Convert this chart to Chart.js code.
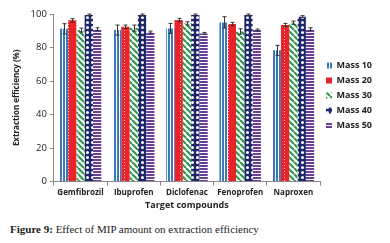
<!DOCTYPE html>
<html><head><meta charset="utf-8">
<script src="https://cdn.jsdelivr.net/npm/chart.js@4/dist/chart.umd.min.js"></script>
<style>
html,body{margin:0;padding:0;background:#fff;}
#wrap{position:absolute;left:0;top:0;width:390px;height:211px;}
#cap{position:absolute;left:10px;top:223px;font-family:"Liberation Serif","DejaVu Serif",serif;font-size:11px;color:#222;white-space:nowrap;}
</style></head>
<body>
<div id="wrap"><canvas id="c" width="390" height="211"></canvas></div>
<div id="cap"><b>Figure 9:</b> Effect of MIP amount on extraction efficiency</div>
<script>
const categories = ["Gemfibrozil","Ibuprofen","Diclofenac","Fenoprofen","Naproxen"];
const seriesNames = ["Mass 10","Mass 20","Mass 30","Mass 40","Mass 50"];
const mass10 = [91.2, 90.4, 91.4, 95.0, 78.3];
const mass20 = [96.2, 92.4, 96.4, 94.0, 93.4];
const mass30 = [90.4, 91.6, 94.4, 89.6, 94.8];
const mass40 = [99.4, 99.4, 99.4, 99.4, 98.4];
const mass50 = [91.0, 89.2, 88.4, 90.4, 91.0];
const err10 = [3.0, 3.0, 3.0, 3.4, 3.0];
const err20 = [1.0, 1.0, 1.0, 1.0, 1.0];
const err30 = [1.2, 1.8, 1.0, 1.6, 1.0];
const err40 = [0.6, 0.6, 0.6, 0.6, 0.6];
const err50 = [0.8, 0.6, 0.6, 0.6, 0.8];
const yTicks = [0,20,40,60,80,100];

function tile(w,h,draw){const c=document.createElement('canvas');c.width=w;c.height=h;const x=c.getContext('2d');draw(x);return x.createPattern(c,'repeat');}
const pat10 = tile(3,4,x=>{x.fillStyle='#fff';x.fillRect(0,0,3,4);x.fillStyle='#3d78b8';x.fillRect(0,0,2,4);});
const pat20 = tile(8,3,x=>{x.fillStyle='#e8232b';x.fillRect(0,0,8,3);x.fillStyle='#f8c0c0';x.fillRect(4,0,1,1);});
const pat30 = tile(6,6,x=>{x.fillStyle='#fff';x.fillRect(0,0,6,6);x.strokeStyle='#2f9a4a';x.lineWidth=2.2;x.beginPath();for(let k=-6;k<=6;k+=6){x.moveTo(k,0);x.lineTo(k+6,6);}x.stroke();});
const pat40 = tile(5,5,x=>{x.fillStyle='#1d2669';x.fillRect(0,0,5,5);x.fillStyle='#fff';x.beginPath();x.arc(2.5,2.5,1.5,0,Math.PI*2);x.fill();});
const pat50 = tile(4,3,x=>{x.fillStyle='#fff';x.fillRect(0,0,4,3);x.fillStyle='#6a3f97';x.fillRect(0,0,4,2);});

const vals=[mass10,mass20,mass30,mass40,mass50];
const errs=[err10,err20,err30,err40,err50];
const pats=[pat10,pat20,pat30,pat40,pat50];
const borders=['#3d78b8','#e8232b','#2f9a4a','#1d2669','#6a3f97'];

const errPlugin={id:'err',afterDatasetsDraw(chart){const ctx=chart.ctx;const ys=chart.scales.y;ctx.save();ctx.strokeStyle='#333';ctx.lineWidth=1;
chart.data.datasets.forEach((ds,i)=>{const m=chart.getDatasetMeta(i);m.data.forEach((el,j)=>{const v=ds.data[j],e=errs[i][j];const x=Math.round(el.x)+0.5;const y1=ys.getPixelForValue(v+e),y0=ys.getPixelForValue(v-e);
ctx.beginPath();ctx.moveTo(x,y0);ctx.lineTo(x,y1);ctx.moveTo(x-2,y1);ctx.lineTo(x+2,y1);ctx.moveTo(x-2,y0);ctx.lineTo(x+2,y0);ctx.stroke();});});ctx.restore();}};
const legendShift={id:'legendShift',afterLayout(chart){const l=chart.legend;if(l){l.top-=17;l.bottom-=17;}}};

const font='"Open Sans","Liberation Sans",sans-serif';
new Chart(document.getElementById('c'),{type:'bar',
data:{labels:categories,datasets:seriesNames.map((n,i)=>({label:n,data:vals[i],backgroundColor:pats[i],borderColor:borders[i],borderWidth:0}))},
options:{responsive:false,animation:false,devicePixelRatio:1,
layout:{padding:{top:14,right:8,left:12,bottom:0}},
datasets:{bar:{categoryPercentage:0.78,barPercentage:1.0}},
plugins:{legend:{position:'right',align:'center',labels:{boxWidth:6,boxHeight:6,padding:6,color:'#222',font:{family:font,size:9,weight:'bold'}}},tooltip:{enabled:false}},
scales:{
x:{grid:{display:true,drawOnChartArea:false,drawTicks:true,tickLength:4,offset:true,color:'#888'},border:{color:'#888'},
ticks:{color:'#222',font:{family:font,size:8,weight:'bold'},maxRotation:0,padding:2},
title:{display:true,text:'Target compounds',color:'#222',font:{family:font,size:9,weight:'bold'},padding:{top:1,bottom:0}}},
y:{min:0,max:100,afterBuildTicks(ax){ax.ticks=yTicks.map(v=>({value:v}));},grid:{display:true,drawOnChartArea:false,tickLength:4,color:'#888'},border:{color:'#888'},
ticks:{color:'#222',font:{family:font,size:9.5},padding:3},
title:{display:true,text:'Extraction efficiency (%)',color:'#222',font:{family:font,size:8,weight:'bold'},padding:{top:0,bottom:6}}}
}},plugins:[errPlugin,legendShift]});
</script>
</body></html>
